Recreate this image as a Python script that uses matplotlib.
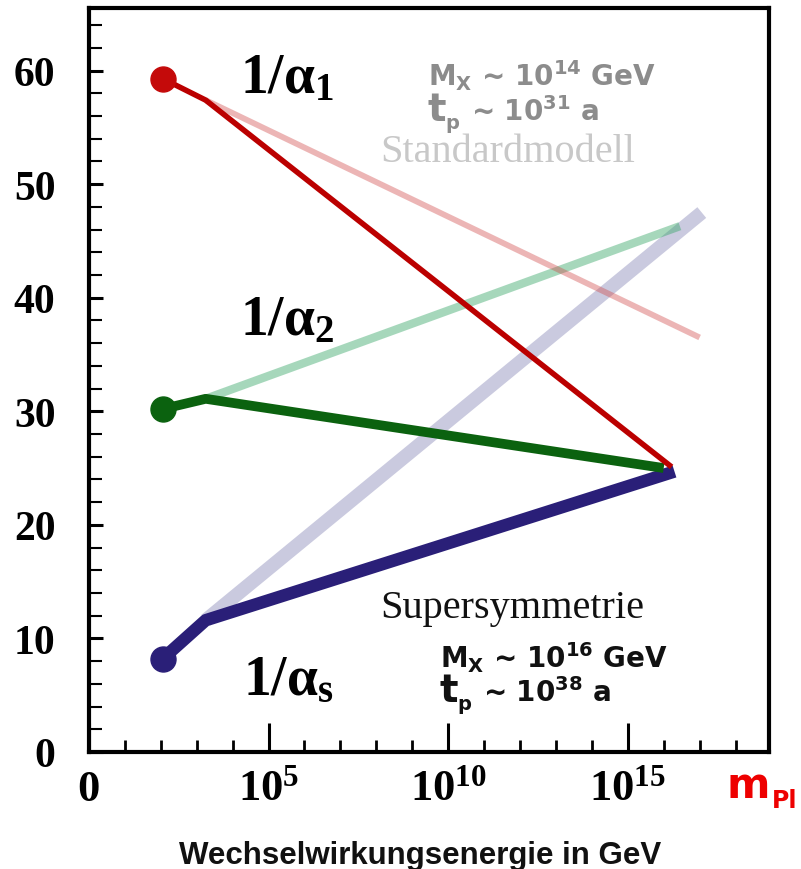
import matplotlib
matplotlib.use("Agg")
import matplotlib.pyplot as plt
from matplotlib.ticker import FixedLocator, MultipleLocator

plt.rcParams['mathtext.fontset'] = 'custom'
plt.rcParams['mathtext.rm'] = 'Liberation Serif:bold'
plt.rcParams['mathtext.it'] = 'Liberation Serif:bold'
plt.rcParams['mathtext.bf'] = 'Liberation Serif:bold'
plt.rcParams['mathtext.default'] = 'rm'

# ---- data (x = log10 of energy in GeV) ----
susy_x_a1 = [2.05, 3.25, 16.22]
susy_y_a1 = [59.3, 57.4, 25.1]
susy_x_a2 = [2.05, 3.25, 16.0]
susy_y_a2 = [30.2, 31.1, 25.0]
susy_x_as = [2.05, 3.25, 16.3]
susy_y_as = [8.2, 11.6, 24.7]

sm_x_a1 = [3.25, 17.0]
sm_y_a1 = [57.4, 36.5]
sm_x_a2 = [3.25, 16.45]
sm_y_a2 = [31.1, 46.3]
sm_x_as = [3.25, 17.06]
sm_y_as = [11.6, 47.5]

xtick_pos = [0, 5, 10, 15]
xtick_labels = ['0', r'$10^{5}$', r'$10^{10}$', r'$10^{15}$']
ytick_pos = [0, 10, 20, 30, 40, 50, 60]

fig = plt.figure(figsize=(8.01, 8.70), dpi=100)
ax = fig.add_axes([0.111, 0.1345, 0.849, 0.855])
ax.set_xlim(0, 18.93)
ax.set_ylim(0, 65.5)

# Standard model (faint)
ax.plot(sm_x_as, sm_y_as, color='#8a8ab8', alpha=0.45, lw=10, solid_capstyle='butt', zorder=1)
ax.plot(sm_x_a2, sm_y_a2, color='#3aa86a', alpha=0.45, lw=6, solid_capstyle='butt', zorder=1)
ax.plot(sm_x_a1, sm_y_a1, color='#d04848', alpha=0.40, lw=4.2, solid_capstyle='butt', zorder=1)

# Supersymmetry
ax.plot(susy_x_as, susy_y_as, color='#2a1f78', lw=9, solid_capstyle='butt', solid_joinstyle='round', zorder=3)
ax.plot(susy_x_a2, susy_y_a2, color='#0b620f', lw=7, solid_capstyle='butt', solid_joinstyle='round', zorder=4)
ax.plot(susy_x_a1, susy_y_a1, color='#bb0000', lw=4, solid_capstyle='butt', solid_joinstyle='round', zorder=5)

ax.plot(susy_x_a1[0], susy_y_a1[0], 'o', color='#c40a0a', ms=18, zorder=6)
ax.plot(susy_x_a2[0], susy_y_a2[0], 'o', color='#0b620f', ms=18, zorder=6)
ax.plot(susy_x_as[0], susy_y_as[0], 'o', color='#2a1f78', ms=18, zorder=6)

# axes styling
for s in ax.spines.values():
    s.set_linewidth(3)
ax.xaxis.set_major_locator(FixedLocator(xtick_pos))
ax.xaxis.set_minor_locator(MultipleLocator(1))
ax.yaxis.set_major_locator(FixedLocator(ytick_pos))
ax.yaxis.set_minor_locator(MultipleLocator(2))
ax.set_xticklabels(xtick_labels)
ax.tick_params(axis='x', which='major', direction='in', length=21, width=2.2, pad=12)
ax.tick_params(axis='x', which='minor', direction='in', length=9, width=2)
ax.tick_params(axis='y', which='major', direction='in', length=10, width=2.2, pad=24)
ax.tick_params(axis='y', which='minor', direction='in', length=9, width=1.5)
for lab in ax.get_yticklabels():
    lab.set_fontfamily('Liberation Serif')
    lab.set_fontweight('bold')
    lab.set_fontsize(30)
for lab in ax.get_xticklabels():
    lab.set_fontfamily('Liberation Serif')
    lab.set_fontweight('bold')
    lab.set_fontsize(32)

serif = dict(family='Liberation Serif', fontweight='bold')
ax.text(4.2, 58.1, r'$1/\alpha_{1}$', fontsize=40, **serif)
ax.text(4.2, 36.8, r'$1/\alpha_{2}$', fontsize=40, **serif)
ax.text(4.3, 5.1, r'$1/\alpha_{s}$', fontsize=40, **serif)

ax.text(8.1, 52.0, 'Standardmodell', family='Liberation Serif', fontsize=29, color='#c8c8c8')
ax.text(8.1, 11.9, 'Supersymmetrie', family='Liberation Serif', fontsize=29, color='#111111')

sans = dict(family='DejaVu Sans', fontweight='bold', math_fontfamily='dejavusans')


def block(x, y_m, y_t, mexp, texp, color):
    ax.text(x, y_m, r'$\mathbf{M_X}$ ~ $\mathbf{10^{%s}}$ GeV' % mexp, fontsize=20,
            color=color, va='baseline', **sans)
    ax.text(x, y_t, 't', fontsize=28, color=color, va='baseline', **sans)
    ax.annotate('p', xy=(x, y_t), xycoords='data', xytext=(12.5, -6), textcoords='offset points',
                fontsize=14, color=color, va='baseline', **sans)
    ax.annotate(r'~ $\mathbf{10^{%s}}$ a' % texp, xy=(x, y_t), xycoords='data', xytext=(31, 0),
                textcoords='offset points', fontsize=20, color=color, va='baseline', **sans)


block(9.43, 58.75, 55.67, '14', '31', '#8c8c8c')
block(9.77, 7.48, 4.49, '16', '38', '#111111')

fig.text(726/801, 1-798/870, 'm', fontsize=30, color='#ee0000', va='baseline',
         family='DejaVu Sans', fontweight='bold')
fig.text(772/801, 1-808/870, 'Pl', fontsize=17, color='#ee0000', va='baseline',
         family='DejaVu Sans', fontweight='bold')
fig.text(420/801, 1-856/870, 'Wechselwirkungsenergie in GeV', family='Liberation Sans',
         fontweight='bold', fontsize=22.5, ha='center', va='center', color='#111111')

fig.savefig('out.png', dpi=100)
